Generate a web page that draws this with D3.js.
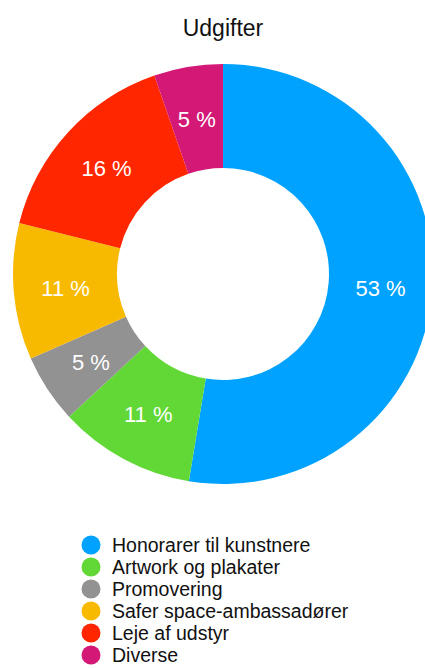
<!DOCTYPE html>
<html>
<head>
<meta charset="utf-8">
<script src="https://cdn.jsdelivr.net/npm/d3@7"></script>
<style>
  body { margin: 0; background: #fff; overflow: hidden; }
  svg { display: block; font-family: "Liberation Sans", Arial, sans-serif; }
</style>
</head>
<body>
<svg id="chart" width="425" height="668"></svg>
<script>
const title = 'Udgifter'
const categories = ['Honorarer til kunstnere', 'Artwork og plakater', 'Promovering', 'Safer space-ambassadører', 'Leje af udstyr', 'Diverse']
const shares = [52.6, 10.5, 5.3, 10.5, 15.8, 5.3]
const colors = ['#00a2ff', '#61d836', '#929292', '#f8ba00', '#ff2600', '#d31876']

const svg = d3.select('#chart')
const width = +svg.attr('width')

// ========= TITLE =========== \\
svg.append('text')
    .attr('x', 223)
    .attr('y', 36)
    .attr('text-anchor', 'middle')
    .attr('font-size', 23)
    .attr('fill', '#111')
    .text(title)

// ========= DONUT =========== \\
const cx = 223, cy = 274
const outerR = 210, innerR = 106

const chartArea = svg.append('g').attr('transform', `translate(${cx},${cy})`)
const colorScale = d3.scaleOrdinal().domain(categories).range(colors)

const total = d3.sum(shares)
const pie = d3.pie().sort(null).value(d => d.value)
const arcs = pie(categories.map((c, i) => ({ name: c, value: shares[i] })))

const arc = d3.arc().innerRadius(innerR).outerRadius(outerR)
const labelArc = d3.arc().innerRadius((innerR + outerR) / 2).outerRadius((innerR + outerR) / 2)

chartArea.selectAll('path.slice')
    .data(arcs)
    .join('path')
    .attr('class', 'slice')
    .attr('d', arc)
    .attr('fill', d => colorScale(d.data.name))

chartArea.selectAll('text.pct')
    .data(arcs)
    .join('text')
    .attr('class', 'pct')
    .attr('transform', d => `translate(${labelArc.centroid(d)})`)
    .attr('text-anchor', 'middle')
    .attr('dy', '0.4em')
    .attr('font-size', 22)
    .attr('fill', '#fff')
    .text(d => Math.round(d.data.value / total * 100) + ' %')

// ========= LEGEND =========== \\
const legend = svg.append('g').attr('transform', 'translate(91, 545)')
const rowY = d3.scaleLinear().domain([0, 1]).range([0, 22])

categories.forEach((label, i) => {
    legend.append('circle')
        .attr('cx', 0)
        .attr('cy', rowY(i))
        .attr('r', 9.5)
        .attr('fill', colorScale(label))

    legend.append('text')
        .attr('x', 21)
        .attr('y', rowY(i))
        .attr('dy', '0.35em')
        .attr('font-size', 19.5)
        .attr('fill', '#111')
        .text(label)
})
</script>
</body>
</html>
